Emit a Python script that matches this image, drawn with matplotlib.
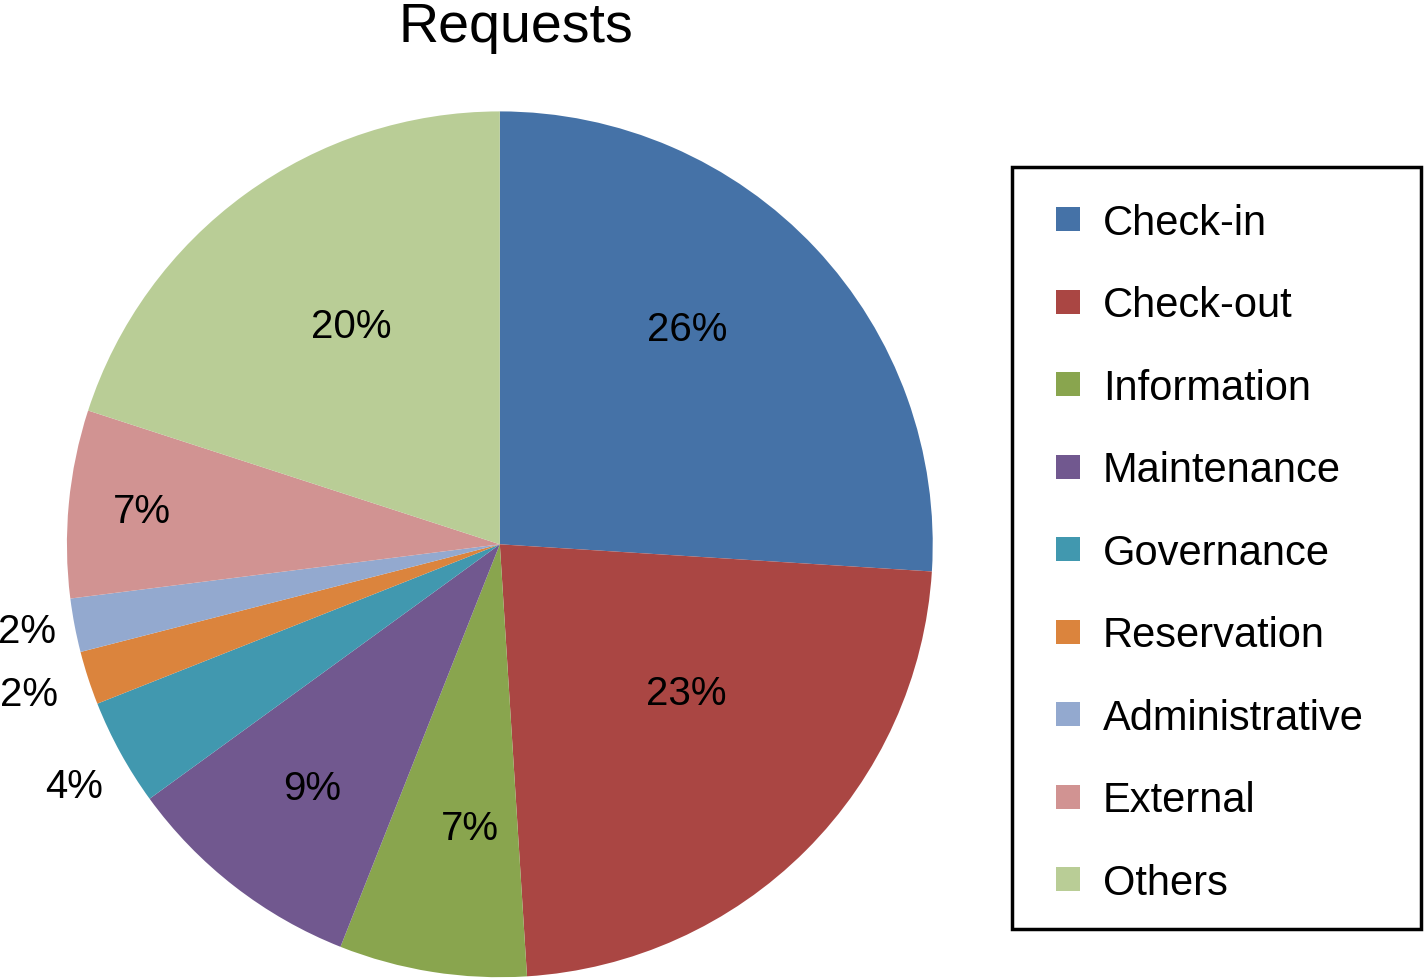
import numpy as np
import matplotlib.pyplot as plt
from matplotlib.lines import Line2D
from matplotlib.patches import Rectangle

plt.rcParams['font.family'] = ['Liberation Sans', 'DejaVu Sans']

# Data
categories = ["Check-in", "Check-out", "Information", "Maintenance", "Governance",
              "Reservation", "Administrative", "External", "Others"]
shares = [26, 23, 7, 9, 4, 2, 2, 7, 20]
colors = ["#4572A7", "#AA4643", "#89A54E", "#71588F", "#4198AF",
          "#DB843D", "#93A9CF", "#D19392", "#B9CD96"]

# label placement ("best fit" look): distance as fraction of radius, angle shift in degrees
label_r = [0.66, 0.55, 0.66, 0.71, 1.13, 1.14, 1.11, 0.83, 0.61]
label_shift = [5.8, 6.4, 3.0, 0.2, 0.8, -0.4, -0.4, 0.1, -1.7]

fig = plt.figure(figsize=(14.24, 9.79), dpi=100)
ax = fig.add_axes([0.047, 0.0, 0.608, 0.886])

wedges, texts, autotexts = ax.pie(shares, colors=colors, startangle=90, counterclock=False,
                                  autopct='%1.0f%%', pctdistance=0.65,
                                  textprops={'fontsize': 29, 'color': 'black'},
                                  wedgeprops={'linewidth': 0})
for w, t, r, s in zip(wedges, autotexts, label_r, label_shift):
    ang = np.deg2rad((w.theta1 + w.theta2) / 2 + s)
    t.set_position((r * np.cos(ang), r * np.sin(ang)))
ax.set_xlim(-1, 1)
ax.set_ylim(-1, 1)
ax.set_aspect('equal')

fig.text(516 / 1424, 1 - 28 / 979, "Requests", fontsize=40, ha='center', va='center')

# legend entries (no frame) + separate box around them
handles = [Line2D([], [], marker='s', linestyle='none', markersize=17,
                  markerfacecolor=c, markeredgewidth=0) for c in colors]
leg = fig.legend(handles, categories, loc='center left',
                 bbox_to_anchor=(1012 / 1424, 1 - 554 / 979),
                 fontsize=30, frameon=False, labelspacing=1.02,
                 handlelength=1.0, handletextpad=0.33,
                 borderpad=0.85, borderaxespad=0)
fig.patches.append(Rectangle((1012 / 1424, 1 - 930 / 979), 409 / 1424, 762 / 979,
                             transform=fig.transFigure, fill=False,
                             edgecolor='black', linewidth=2.5))

fig.savefig("out.png", dpi=100)
